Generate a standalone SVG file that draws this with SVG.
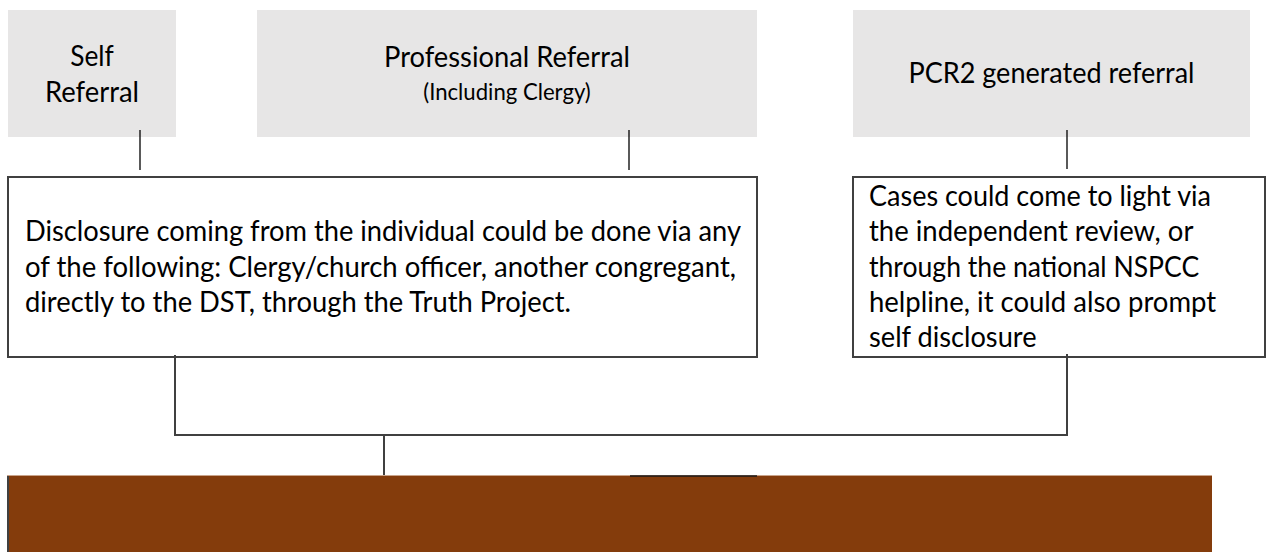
<svg xmlns="http://www.w3.org/2000/svg" width="1267" height="552" viewBox="0 0 1267 552">
<style>
.src{fill:#e7e6e6;stroke:none}
.box{fill:#ffffff;stroke:#404040;stroke-width:2}
.t{font-family:Lato,"Open Sans","Liberation Sans",sans-serif;font-size:29.2px;fill:#000000}
.ts{font-family:Lato,"Open Sans","Liberation Sans",sans-serif;font-size:23.7px;fill:#000000}
.c{text-anchor:middle}
.stub{stroke:#000000;stroke-width:1.3;fill:none}
.conn{stroke:#404040;stroke-width:2;fill:none}
</style>
<rect width="1267" height="552" fill="#ffffff"/>
<g id="self-referral">
<rect class="src" x="8" y="10" width="168" height="127"/>
<text class="t c" x="92" y="66" textLength="43.5" lengthAdjust="spacingAndGlyphs">Self</text>
<text class="t c" x="92" y="102" textLength="94" lengthAdjust="spacingAndGlyphs">Referral</text>
</g>
<g id="professional-referral">
<rect class="src" x="257" y="10" width="500" height="127"/>
<text class="t c" x="507" y="66.5" textLength="246" lengthAdjust="spacingAndGlyphs">Professional Referral</text>
<text class="ts c" x="507" y="100" textLength="167.5" lengthAdjust="spacingAndGlyphs">(Including Clergy)</text>
</g>
<g id="pcr2-referral">
<rect class="src" x="853" y="10" width="397" height="127"/>
<text class="t c" x="1051.5" y="83" textLength="286" lengthAdjust="spacingAndGlyphs">PCR2 generated referral</text>
</g>
<g id="disclosure">
<rect class="box" x="8" y="177" width="749" height="180"/>
<text class="t" x="25" y="241" textLength="716" lengthAdjust="spacingAndGlyphs">Disclosure coming from the individual could be done via any</text>
<text class="t" x="25" y="276.5" textLength="711" lengthAdjust="spacingAndGlyphs">of the following: Clergy/church officer, another congregant,</text>
<text class="t" x="25" y="312" textLength="546" lengthAdjust="spacingAndGlyphs">directly to the DST, through the Truth Project.</text>
</g>
<g id="cases">
<rect class="box" x="853" y="177" width="412" height="180"/>
<text class="t" x="869" y="206" textLength="342" lengthAdjust="spacingAndGlyphs">Cases could come to light via</text>
<text class="t" x="869" y="241" textLength="324.4" lengthAdjust="spacingAndGlyphs">the independent review, or</text>
<text class="t" x="869" y="276.5" textLength="330.2" lengthAdjust="spacingAndGlyphs">through the national NSPCC</text>
<text class="t" x="869" y="312" textLength="347.2" lengthAdjust="spacingAndGlyphs">helpline, it could also prompt</text>
<text class="t" x="869" y="347" textLength="167.5" lengthAdjust="spacingAndGlyphs">self disclosure</text>
</g>
<g id="outcome">
<rect x="7" y="475" width="1205" height="77" fill="#843c0c"/>
<line x1="7" y1="475.5" x2="1212" y2="475.5" stroke="#c9a48b" stroke-width="1"/>
<line x1="8" y1="476" x2="8" y2="552" stroke="#404040" stroke-width="2"/>
<line x1="630" y1="476" x2="757" y2="476" stroke="#1a1a1a" stroke-width="1.5"/>
</g>
<g id="connectors">
<line class="stub" x1="140" y1="130" x2="140" y2="170"/>
<line class="stub" x1="629" y1="130" x2="629" y2="170"/>
<line class="stub" x1="1067" y1="130" x2="1067" y2="169"/>
<path class="conn" d="M175,355 V435 H1067 V354"/>
<line class="conn" x1="384" y1="435" x2="384" y2="475"/>
</g>
</svg>
